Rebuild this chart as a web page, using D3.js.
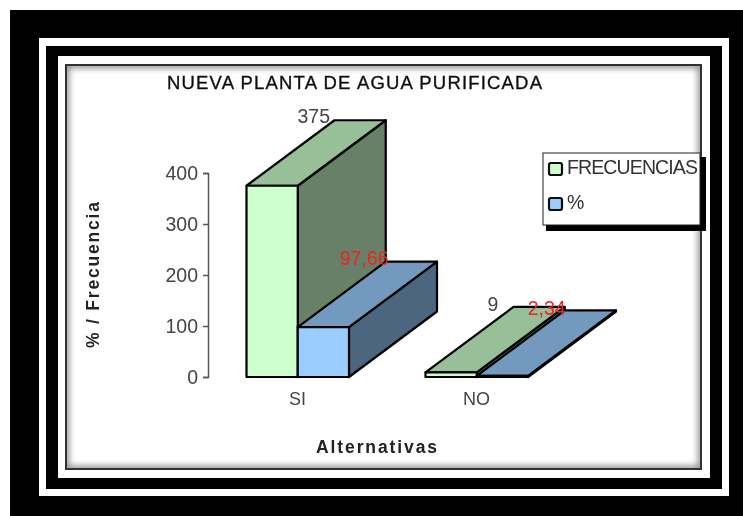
<!DOCTYPE html>
<html>
<head>
<meta charset="utf-8">
<script src="https://cdn.jsdelivr.net/npm/d3@7/dist/d3.min.js"></script>
<style>
	html, body { margin: 0; padding: 0; background: #fff; }
	svg { display: block; }
	text { font-family: "Liberation Sans", Arial, sans-serif; }
</style>
</head>
<body>
<svg id="chart" width="743" height="516"></svg>
<script>
var categories = ['SI', 'NO'];
var seriesNames = ['FRECUENCIAS', '%'];
var frecuencias = [375, 9];
var porcentajes = [97.66, 2.34];
var valueLabels = [['375', '9'], ['97,66', '2,34']];
var tickValues = [0, 100, 200, 300, 400];

var frontColors = ['#ccffcc', '#99ccff'];
var topColors = ['#98c098', '#7399bf'];
var sideColors = ['#678067', '#4d6680'];
var labelColors = ['#444444', '#ee2222'];

var svg = d3.select('#chart');
var defs = svg.append('defs');

defs.append('filter').attr('id', 'soft')
	.attr('x', '-5%').attr('y', '-5%').attr('width', '110%').attr('height', '110%')
	.append('feGaussianBlur').attr('stdDeviation', 0.45);
defs.append('filter').attr('id', 'shade')
	.attr('x', '-5%').attr('y', '-5%').attr('width', '110%').attr('height', '110%')
	.append('feGaussianBlur').attr('stdDeviation', 3);
defs.append('clipPath').attr('id', 'plotclip')
	.append('rect').attr('x', 66).attr('y', 65).attr('width', 635).attr('height', 404);

var root = svg.append('g').attr('filter', 'url(#soft)');

// nested black and white frames
var frames = [
	{x: 10, y: 10, x2: 760, y2: 530, fill: '#000000'},
	{x: 39, y: 38, x2: 729, y2: 496, fill: '#ffffff'},
	{x: 46, y: 46, x2: 722, y2: 489, fill: '#000000'},
	{x: 58, y: 56, x2: 710, y2: 478, fill: '#ffffff'}
];
root.selectAll('rect.frame').data(frames).enter().append('rect')
	.attr('class', 'frame')
	.attr('x', function(d) { return d.x; })
	.attr('y', function(d) { return d.y; })
	.attr('width', function(d) { return d.x2 - d.x; })
	.attr('height', function(d) { return d.y2 - d.y; })
	.attr('fill', function(d) { return d.fill; });

// soft shadow inside the plot border
root.append('g').attr('clip-path', 'url(#plotclip)')
	.append('rect')
	.attr('x', 66).attr('y', 65).attr('width', 635).attr('height', 404)
	.attr('fill', 'none').attr('stroke', '#888888').attr('stroke-width', 6)
	.attr('filter', 'url(#shade)');
root.append('rect')
	.attr('x', 66).attr('y', 65).attr('width', 635).attr('height', 404)
	.attr('fill', 'none').attr('stroke', '#333333').attr('stroke-width', 2);

// scales
var y = d3.scaleLinear().domain([0, 400]).range([377, 173]);
var x = d3.scalePoint().domain(categories).range([297, 476]);
var seriesX = d3.scaleBand().domain(seriesNames).range([-50.5, 52]);
var barWidth = seriesX.bandwidth();
var depthX = 88;
var depthY = -65.5;

// value axis
var axis = d3.axisLeft(y).tickValues(tickValues).tickSize(5).tickPadding(5);
var axisG = root.append('g').attr('transform', 'translate(208,0)').call(axis);
axisG.selectAll('path, line').attr('stroke', '#555555').attr('stroke-width', 1.5);
axisG.selectAll('text').attr('font-size', 19.5).attr('fill', '#444444');

// category axis without a line
var axisX = d3.axisBottom(x).tickSize(0).tickPadding(15);
var axisXG = root.append('g').attr('transform', 'translate(0,377)').call(axisX);
axisXG.select('path').remove();
axisXG.selectAll('text').attr('font-size', 18).attr('fill', '#444444');

function pts(list) {
	return list.map(function(p) { return p.join(','); }).join(' ');
}

function drawBar(g, left, v, s) {
	var right = left + barWidth;
	var top = y(v);
	var base = y(0);
	g.append('polygon')
		.attr('points', pts([[right, top], [right + depthX, top + depthY], [right + depthX, base + depthY], [right, base]]))
		.attr('fill', sideColors[s]);
	g.append('polygon')
		.attr('points', pts([[left, top], [left + depthX, top + depthY], [right + depthX, top + depthY], [right, top]]))
		.attr('fill', topColors[s]);
	g.append('rect')
		.attr('x', left).attr('y', top)
		.attr('width', barWidth).attr('height', base - top)
		.attr('fill', frontColors[s]);
}

var bars = root.append('g')
	.attr('stroke', '#000000').attr('stroke-width', 2.2).attr('stroke-linejoin', 'round');

// back series first so the blue block overlaps the green one
[frecuencias, porcentajes].forEach(function(values, s) {
	values.forEach(function(v, i) {
		drawBar(bars, x(categories[i]) + seriesX(seriesNames[s]), v, s);
	});
});

// value labels sit at the back top corner of each block
var labelOffsets = [[[-37, 3], [-26, 4]], [[-46, 3], [-37, 5]]];
[frecuencias, porcentajes].forEach(function(values, s) {
	values.forEach(function(v, i) {
		var off = labelOffsets[s][i];
		root.append('text')
			.attr('x', x(categories[i]) + seriesX(seriesNames[s]) + depthX + off[0])
			.attr('y', y(v) + depthY + off[1])
			.attr('font-size', 19.5)
			.attr('fill', labelColors[s])
			.text(valueLabels[s][i]);
	});
});

// titles
root.append('text')
	.attr('x', 167).attr('y', 89)
	.attr('font-size', 18.5).attr('fill', '#111111')
	.attr('stroke', '#111111').attr('stroke-width', 0.35)
	.attr('textLength', 375).attr('lengthAdjust', 'spacing')
	.text('NUEVA PLANTA DE AGUA PURIFICADA');

root.append('text')
	.attr('transform', 'translate(99,275) rotate(-90)')
	.attr('text-anchor', 'middle')
	.attr('font-size', 17.5).attr('font-weight', 'bold').attr('fill', '#222222')
	.attr('textLength', 146).attr('lengthAdjust', 'spacing')
	.text('% / Frecuencia');

root.append('text')
	.attr('x', 316).attr('y', 453)
	.attr('font-size', 17.5).attr('font-weight', 'bold').attr('fill', '#222222')
	.attr('textLength', 121).attr('lengthAdjust', 'spacing')
	.text('Alternativas');

// legend
root.append('rect')
	.attr('x', 546).attr('y', 157).attr('width', 160).attr('height', 74)
	.attr('fill', '#000000');
root.append('rect')
	.attr('x', 543).attr('y', 153).attr('width', 157).attr('height', 72)
	.attr('fill', '#ffffff').attr('stroke', '#222222').attr('stroke-width', 1);

var legendY = d3.scalePoint().domain(seriesNames).range([169, 204]);
var legendItems = root.selectAll('g.legenditem').data(seriesNames).enter().append('g')
	.attr('class', 'legenditem');
legendItems.append('rect')
	.attr('x', 549)
	.attr('y', function(d) { return legendY(d) - 6; })
	.attr('width', 13).attr('height', 12).attr('rx', 2)
	.attr('fill', function(d, i) { return frontColors[i]; })
	.attr('stroke', '#111111').attr('stroke-width', 2.2);
legendItems.append('text')
	.attr('x', 567)
	.attr('y', function(d) { return legendY(d) + 4.5; })
	.attr('font-size', 19.5).attr('fill', '#333333')
	.each(function(d) {
		if (d.length > 1) d3.select(this).attr('textLength', 131).attr('lengthAdjust', 'spacing');
	})
	.text(function(d) { return d; });
</script>
</body>
</html>
